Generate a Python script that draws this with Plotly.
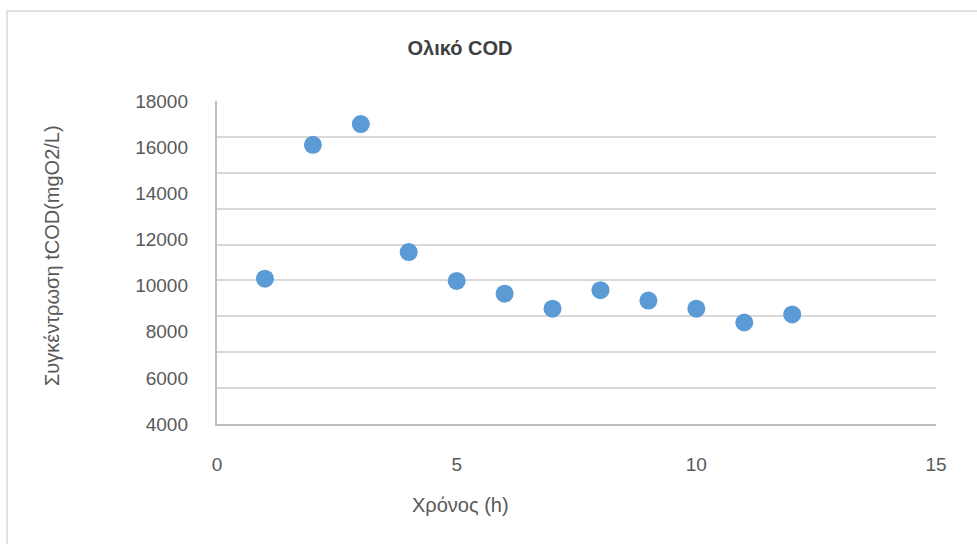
import plotly.graph_objects as go

# Total COD concentration over time
time_h = [1, 2, 3, 4, 5, 6, 7, 8, 9, 10, 11, 12]
tcod_mg_l = [10300, 16100, 17000, 11450, 10200, 9650, 9000, 9800, 9350, 9000, 8400, 8750]

y_tick_vals = [4000, 6000, 8000, 10000, 12000, 14000, 16000, 18000]
x_tick_vals = [0, 5, 10, 15]

title_text = "Ολικό COD"
x_title = "Χρόνος (h)"
y_title = "Συγκέντρωση tCOD(mgO2/L)"

W, H = 977, 544
L, R, T, B = 217, 936, 101, 424  # plot area in pixels


def px_to_paper(px, py):
    return (px - L) / (R - L), (B - py) / (B - T)


y_min, y_max = y_tick_vals[0], y_tick_vals[-1]
grid_step = (y_max - y_min) / 9

FAMILY = "Liberation Sans, Arial, sans-serif"
tick_font = dict(family=FAMILY, size=19, color="#595959")
axis_title_font = dict(family=FAMILY, size=20, color="#595959")

fig = go.Figure()
fig.add_trace(go.Scatter(
    x=time_h, y=tcod_mg_l, mode="markers",
    marker=dict(color="#5B9BD5", size=18, line=dict(width=0)),
    showlegend=False, hoverinfo="x+y",
))
# carrier trace for the labelled value axis
fig.add_trace(go.Scatter(x=[], y=[], yaxis="y2", showlegend=False, hoverinfo="skip"))

fig.update_layout(
    width=W, height=H,
    margin=dict(l=L, r=W - R, t=T, b=H - B),
    paper_bgcolor="white", plot_bgcolor="white",
    xaxis=dict(
        range=[0, 15], tickvals=x_tick_vals, showgrid=False, zeroline=False,
        showline=True, linecolor="#bfbfbf", linewidth=1.5,
        ticks="", tickfont=tick_font, ticklabelstandoff=22,
    ),
    yaxis=dict(
        range=[y_min, y_max], tick0=y_min, dtick=grid_step,
        showgrid=True, gridcolor="#d9d9d9", gridwidth=1.5, zeroline=False,
        showline=True, linecolor="#bfbfbf", linewidth=1.5,
        showticklabels=False, ticks="",
    ),
    yaxis2=dict(
        overlaying="y", side="left", range=[y_min, y_max], tickvals=y_tick_vals,
        tickformat="d", showgrid=False, zeroline=False, showline=False, ticks="",
        tickfont=tick_font, ticklabelstandoff=28,
    ),
    title=dict(
        text=title_text, xref="container", yref="container",
        x=460 / W, y=1 - 48 / H, xanchor="center", yanchor="middle",
        font=dict(family=FAMILY, size=20, color="#404040", weight="bold"),
    ),
)

ax, ay = px_to_paper(460, 505)
fig.add_annotation(text=x_title, xref="paper", yref="paper", x=ax, y=ay,
                   xanchor="center", yanchor="middle", showarrow=False,
                   font=axis_title_font)
bx, by = px_to_paper(52, 256)
fig.add_annotation(text=y_title, xref="paper", yref="paper", x=bx, y=by,
                   xanchor="center", yanchor="middle", showarrow=False,
                   textangle=-90, font=axis_title_font)

# chart frame
fx0, fy0 = px_to_paper(7, 11)
fx1, fy1 = px_to_paper(990, 560)
fig.add_shape(type="rect", xref="paper", yref="paper", x0=fx0, y0=fy1, x1=fx1, y1=fy0,
              line=dict(color="#d9d9d9", width=1.5), layer="below")

fig.write_html("out.html")
